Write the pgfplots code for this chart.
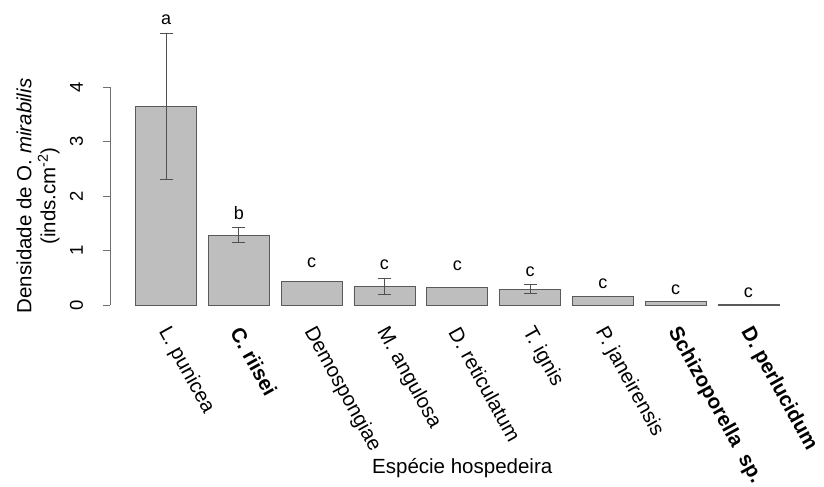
\documentclass[border=0pt]{standalone}
\usepackage{pgfplots}
\pgfplotsset{compat=1.18}
\usepackage{pgfplotstable}
\usepackage{fontspec}
\setmainfont{Liberation Sans}
\definecolor{barfill}{HTML}{BEBEBE}
\definecolor{baredge}{HTML}{5A5A5A}
\definecolor{axgray}{HTML}{707070}
\definecolor{errgray}{HTML}{505050}

\pgfplotstableread{
x y
0 3.65
1 1.28
2 0.44
3 0.345
4 0.32
5 0.29
6 0.16
7 0.06
8 0.012
}\bardata

\pgfplotstableread{
x y err
0 3.65 1.34
1 1.285 0.14
3 0.345 0.147
5 0.29 0.08
}\errdata

\pgfplotstableread{
x y lab
0 5.23 a
1 1.69 b
2 0.77 c
3 0.73 c
4 0.72 c
5 0.61 c
6 0.385 c
7 0.275 c
8 0.22 c
}\letdata

\begin{document}
\begin{tikzpicture}
\begin{axis}[
  scale only axis,
  width=694.5bp, height=218bp,
  xmin=-0.77, xmax=8.77,
  ymin=0, ymax=4,
  clip=false,
  axis y line*=left,
  axis x line*=bottom,
  x axis line style={draw=none},
  y axis line style={draw=axgray, line width=0.8bp},
  xtick={0,1,2,3,4,5,6,7,8},
  xticklabels={L. punicea,\textbf{C. riisei},Demospongiae,M. angulosa,D. reticulatum,T. ignis,P. janeirensis,\textbf{Schizoporella\hspace{0.55em}sp.},\textbf{D. perlucidum}},
  xtick style={draw=none},
  xticklabel style={xshift=-3bp, yshift=-17bp, rotate=-61, anchor=west, inner sep=0pt, font=\fontsize{20.5bp}{24bp}\selectfont},
  ytick={0,1,2,3,4},
  ytick style={draw=axgray, line width=0.8bp},
  tick align=outside,
  major tick length=7bp,
  yticklabel style={xshift=-20bp, rotate=90, anchor=base, inner sep=0pt, font=\fontsize{18.5bp}{22bp}\selectfont},
  /pgf/number format/assume math mode=true,
  ylabel={Densidade de O. \textit{mirabilis}\\(inds.cm\textsuperscript{-2})},
  ylabel style={at={(axis description cs:-0.1037,0.5)}, anchor=center, align=center, font=\fontsize{20.5bp}{24bp}\selectfont},
  xlabel={Espécie hospedeira},
  xlabel style={at={(axis description cs:0.5,0)}, anchor=base, yshift=-168bp, xshift=5bp, font=\fontsize{20.5bp}{24bp}\selectfont},
]
\addplot[ybar, bar width=61bp, fill=barfill, draw=baredge, line width=0.8bp] table[x=x, y=y] {\bardata};
\addplot[draw=none, mark=none, forget plot,
  error bars/.cd, y dir=both, y explicit,
  error mark=-,
  error bar style={draw=errgray, line width=0.8bp},
  error mark options={rotate=90, draw=errgray, line width=0.8bp, mark size=6.5bp}]
  table[x=x, y=y, y error=err] {\errdata};
\addplot[draw=none, mark=none, nodes near coords, point meta=explicit symbolic,
  every node near coord/.append style={anchor=center, inner sep=0pt, font=\fontsize{18bp}{21bp}\selectfont}]
  table[x=x, y=y, meta=lab] {\letdata};
\coordinate (O) at (rel axis cs:0,0);
\end{axis}
\path[use as bounding box] ([shift={(-110bp,-177bp)}]O) rectangle ([shift={(714bp,305bp)}]O);
\end{tikzpicture}
\end{document}
